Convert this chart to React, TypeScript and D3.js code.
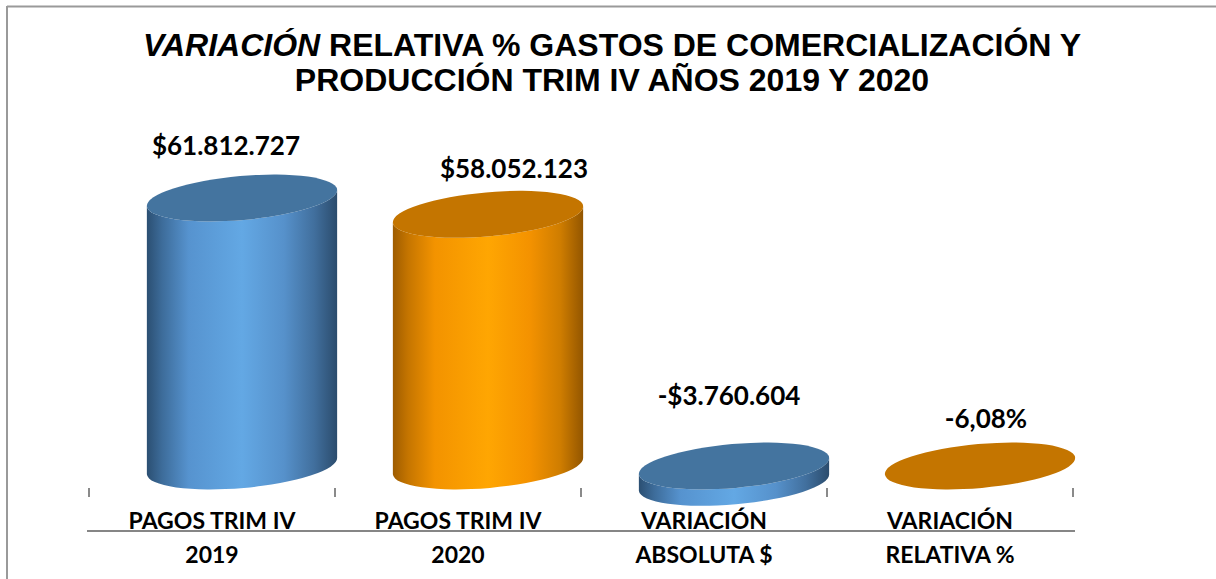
import React from 'react';
import * as d3 from 'd3';

const width = 1216;
const height = 579;

const categories = [
  ['PAGOS TRIM IV', '2019'],
  ['PAGOS TRIM IV', '2020'],
  ['VARIACIÓN', 'ABSOLUTA $'],
  ['VARIACIÓN', 'RELATIVA %'],
];
const values = [61812727, 58052123, -3760604, -0.0608];
const valueLabels = ['$61.812.727', '$58.052.123', '-$3.760.604', '-6,08%'];
const seriesColor = ['blue', 'orange', 'blue', 'orange'];

// excel puts the labels a bit off the cylinder, keep those nudges here
const labelNudge = [
  [-16, -43],
  [26, -36],
  [-5, -61],
  [6, -38],
];

const zeroY = 466;
const topY = 198;
const depthShift = 30;
const rx = 95.5;
const ry = 22;
const tilt = -5;

const x = d3
  .scaleBand<number>()
  .domain(d3.range(categories.length))
  .range([89, 1073])
  .padding(0);

const y = d3
  .scaleLinear()
  .domain([0, d3.max(values) as number])
  .range([zeroY, topY]);

const gradients = {
  blue: [
    ['0%', '#2b4f72'],
    ['8%', '#3d6c9a'],
    ['22%', '#5693cf'],
    ['50%', '#63a8e4'],
    ['72%', '#5691cb'],
    ['88%', '#416f9d'],
    ['100%', '#2b4c6d'],
  ],
  orange: [
    ['0%', '#9e5c00'],
    ['8%', '#c57500'],
    ['22%', '#f39300'],
    ['50%', '#ffa602'],
    ['72%', '#f49200'],
    ['88%', '#cf7d00'],
    ['100%', '#935600'],
  ],
};
const capColor = { blue: '#44749f', orange: '#c47500' };

const rad = (tilt * Math.PI) / 180;
const ex = rx * Math.cos(rad);
const ey = rx * Math.sin(rad);

function bodyPath(cx: number, yA: number, yB: number) {
  const lt = [cx - ex, yA - ey];
  const rt = [cx + ex, yA + ey];
  const lb = [cx - ex, yB - ey];
  const rb = [cx + ex, yB + ey];
  return (
    `M${lt[0]},${lt[1]} L${lb[0]},${lb[1]} ` +
    `A${rx},${ry} ${tilt} 0 0 ${rb[0]},${rb[1]} ` +
    `L${rt[0]},${rt[1]} ` +
    `A${rx},${ry} ${tilt} 0 1 ${lt[0]},${lt[1]} Z`
  );
}

export default function App() {
  const bw = x.bandwidth();
  const ticks = [...x.domain().map((i) => x(i) as number), (x(categories.length - 1) as number) + bw];

  return (
    <div style={{ position: 'fixed', left: 0, top: 0 }}>
      <svg width={width} height={height} style={{ display: 'block', background: '#fff' }}>
        <defs>
          {Object.entries(gradients).map(([k, stops]) => (
            <linearGradient key={k} id={`grad-${k}`} x1="0" x2="1" y1="0" y2="0">
              {stops.map(([o, c]) => (
                <stop key={o} offset={o} stopColor={c} />
              ))}
            </linearGradient>
          ))}
        </defs>

        {/* chart frame */}
        <line x1={7} x2={width} y1={6.5} y2={6.5} stroke="#9a9a9a" strokeWidth={2} />
        <line x1={7} x2={7} y1={6} y2={height} stroke="#9a9a9a" strokeWidth={2} />

        <text
          x={612}
          y={56}
          textAnchor="middle"
          fontFamily="'Liberation Sans', Arial, sans-serif"
          fontWeight="bold"
          fontSize={32}
          fill="#000"
        >
          <tspan fontStyle="italic">VARIACIÓN</tspan>
          <tspan> RELATIVA % GASTOS DE COMERCIALIZACIÓN Y</tspan>
        </text>
        <text
          x={612}
          y={91}
          textAnchor="middle"
          fontFamily="'Liberation Sans', Arial, sans-serif"
          fontWeight="bold"
          fontSize={32}
          fill="#000"
        >
          PRODUCCIÓN TRIM IV AÑOS 2019 Y 2020
        </text>

        {/* axis */}
        <line x1={87} x2={1075} y1={531} y2={531} stroke="#868686" strokeWidth={2} />
        {ticks.map((t, i) => (
          <line key={i} x1={t} x2={t} y1={488} y2={497} stroke="#8a8a8a" strokeWidth={2} />
        ))}

        {values.map((v, i) => {
          const cx = (x(i) as number) + bw / 2 + depthShift;
          const yA = y(Math.max(v, 0));
          const yB = y(Math.min(v, 0));
          const c = seriesColor[i] as 'blue' | 'orange';
          return (
            <g key={i}>
              <path d={bodyPath(cx, yA, yB)} fill={`url(#grad-${c})`} />
              <ellipse
                cx={cx}
                cy={yA}
                rx={rx}
                ry={ry}
                transform={`rotate(${tilt} ${cx} ${yA})`}
                fill={capColor[c]}
              />
              <text
                x={cx + labelNudge[i][0]}
                y={yA + labelNudge[i][1]}
                textAnchor="middle"
                fontFamily="Lato, sans-serif"
                fontWeight="bold"
                fontSize={26}
                fill="#000"
              >
                {valueLabels[i]}
              </text>
            </g>
          );
        })}

        {categories.map((lines, i) => (
          <text
            key={i}
            x={(x(i) as number) + bw / 2}
            textAnchor="middle"
            fontFamily="Lato, sans-serif"
            fontWeight="bold"
            fontSize={23}
            fill="#000"
          >
            {lines.map((l, j) => (
              <tspan key={j} x={(x(i) as number) + bw / 2} y={529 + j * 34}>
                {l}
              </tspan>
            ))}
          </text>
        ))}
      </svg>
    </div>
  );
}
